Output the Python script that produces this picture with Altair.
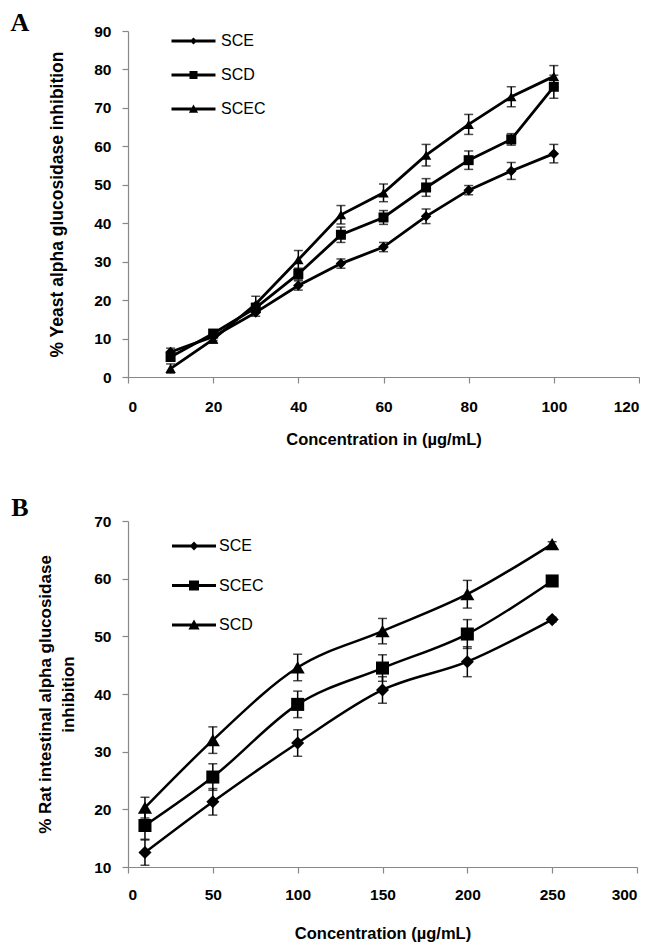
import altair as alt
import pandas as pd

# ---------------- Panel A data ----------------
a_conc = [10, 20, 30, 40, 50, 60, 70, 80, 90, 100]
a_sce = [6.5, 10.5, 16.8, 23.8, 29.5, 33.8, 41.8, 48.6, 53.6, 58.1]
a_sce_err = [1.0, 1.0, 1.0, 1.2, 1.2, 1.2, 1.9, 1.2, 2.2, 2.4]
a_scd = [5.2, 11.3, 18.0, 26.8, 37.0, 41.5, 49.3, 56.4, 61.8, 75.5]
a_scd_err = [1.0, 1.0, 1.2, 1.5, 2.0, 1.8, 2.3, 2.4, 1.5, 3.0]
a_scec = [2.2, 9.8, 19.0, 30.5, 42.2, 47.9, 57.7, 65.7, 72.9, 78.2]
a_scec_err = [1.2, 1.0, 2.0, 2.4, 2.4, 2.3, 2.8, 2.6, 2.6, 2.8]
a_order = ["SCE", "SCD", "SCEC"]

# ---------------- Panel B data ----------------
b_conc = [10, 50, 100, 150, 200, 250]
b_sce = [12.5, 21.3, 31.5, 40.7, 45.6, 52.9]
b_sce_err = [2.2, 2.3, 2.3, 2.3, 2.6, 0.4]
b_scec = [17.2, 25.6, 38.2, 44.5, 50.4, 59.6]
b_scec_err = [2.4, 2.3, 2.3, 2.3, 2.5, 0.4]
b_scd = [20.3, 32.0, 44.6, 50.9, 57.3, 66.0]
b_scd_err = [1.8, 2.3, 2.3, 2.2, 2.4, 0.4]
b_order = ["SCE", "SCEC", "SCD"]

a_xticks = [0, 20, 40, 60, 80, 100, 120]
a_yticks = [0, 10, 20, 30, 40, 50, 60, 70, 80, 90]
b_xticks = [0, 50, 100, 150, 200, 250, 300]
b_yticks = [10, 20, 30, 40, 50, 60, 70]


def long_df(conc, series):
    rows = []
    for name, vals, errs in series:
        for c, v, e in zip(conc, vals, errs):
            rows.append({"conc": c, "val": v, "lo": v - e, "hi": v + e, "series": name})
    return pd.DataFrame(rows)


df_a = long_df(a_conc, [("SCE", a_sce, a_sce_err), ("SCD", a_scd, a_scd_err), ("SCEC", a_scec, a_scec_err)])
df_b = long_df(b_conc, [("SCE", b_sce, b_sce_err), ("SCEC", b_scec, b_scec_err), ("SCD", b_scd, b_scd_err)])

FONT = "Liberation Sans"


def leg_paths(d, s, t, lh=0.37):
    # filled bar for the line + filled marker (same winding)
    line = f"M-5.5,-{lh}H5.5V{lh}H-5.5Z"
    return [
        f"{line}M-{d},0L0,-{d}L{d},0L0,{d}Z",
        f"{line}M-{s},-{s}H{s}V{s}H-{s}Z",
        f"{line}M0,-{t}L{t},{round(t * 0.8, 3)}H-{t}Z",
    ]


def panel(df, order, xdom, xticks, ydom, yticks, w, h, xtitle, ytitle,
          letter, letter_pos, psizes, paths, legx, legy, rowpad, labeloff,
          interp, xlabpad, xtitlepad, ylabpad, ytitlepad, lw, ytitle_size, title_lh=18):
    xs = alt.Scale(domain=xdom, nice=False)
    ys = alt.Scale(domain=ydom, nice=False)
    xax = alt.Axis(values=xticks, title=xtitle, labelPadding=xlabpad,
                   titlePadding=xtitlepad, labelOverlap=False)
    yax = alt.Axis(values=yticks, title=ytitle, labelPadding=ylabpad,
                   titlePadding=ytitlepad, labelOverlap=False,
                   titleLineHeight=title_lh, titleFontSize=ytitle_size)

    def X():
        return alt.X("conc:Q", scale=xs, axis=xax)

    def Y(f):
        return alt.Y(f"{f}:Q", scale=ys, axis=yax)

    base = alt.Chart(df)
    lines = base.mark_line(color="black", strokeWidth=lw, interpolate=interp).encode(
        x=X(), y=Y("val"), detail="series:N")
    rules = base.mark_rule(color="black", strokeWidth=1.5).encode(
        x=X(), y=Y("lo"), y2="hi:Q")
    cap_lo = base.mark_tick(color="black", orient="horizontal", size=9, thickness=1.5).encode(
        x=X(), y=Y("lo"))
    cap_hi = base.mark_tick(color="black", orient="horizontal", size=9, thickness=1.5).encode(
        x=X(), y=Y("hi"))
    shapes = ["diamond", "square", "triangle-up"]
    pts = []
    for name, shp, sz in zip(order, shapes, psizes):
        pts.append(base.transform_filter(alt.datum.series == name).mark_point(
            filled=True, color="black", opacity=1, shape=shp, size=sz).encode(x=X(), y=Y("val")))
    legend_layer = base.mark_point(filled=True, color="black", opacity=0).encode(
        x=X(), y=Y("val"),
        shape=alt.Shape("series:N", scale=alt.Scale(domain=order, range=paths),
                        legend=alt.Legend(title=None, orient="none", legendX=legx, legendY=legy,
                                          symbolOpacity=1, symbolFillColor="black",
                                          symbolStrokeWidth=0,
                                          symbolSize=64, labelFont=FONT, labelFontSize=16,
                                          labelColor="black", labelOffset=labeloff,
                                          rowPadding=rowpad, padding=0)))
    letter_chart = alt.Chart(pd.DataFrame({"t": [letter]})).mark_text(
        font="Liberation Serif", fontSize=26, fontWeight="bold", align="center",
        baseline="middle", color="black").encode(
        text="t:N", x=alt.value(letter_pos[0]), y=alt.value(letter_pos[1]))
    return alt.layer(lines, rules, cap_lo, cap_hi, *pts, legend_layer, letter_chart).properties(
        width=w, height=h)


chart_a = panel(df_a, a_order, [0, 120], a_xticks, [0, 90], a_yticks, 511, 346,
                "Concentration in (µg/mL)", "% Yeast  alpha glucosidase inhibition",
                "A", (-108, -8), [110, 100, 110], leg_paths(0.9, 1.0, 1.15),
                57.5, 2, 18, 19.5, "linear", 16, 17, 11, 27, 2.8, 17.5)
chart_b = panel(df_b, b_order, [0, 300], b_xticks, [10, 70], b_yticks, 509, 346,
                "Concentration (µg/mL)", ["% Rat intestinal alpha glucosidase", "inhibition"],
                "B", (-108, -13), [170, 170, 200], leg_paths(1.1, 1.25, 1.4),
                58, 17, 23.5, 17, "monotone", 14, 23, 11, 16, 2.5, 17, title_lh=23)

chart = alt.vconcat(alt.hconcat(chart_a), alt.hconcat(chart_b), spacing=47).resolve_scale(
    shape="independent").resolve_legend(shape="independent").configure_view(
    stroke=None).configure_axis(
    grid=False, domainColor="#888888", tickColor="#888888", domainWidth=1.2, tickWidth=1.2,
    tickSize=6, labelFont=FONT, labelFontSize=15.5, labelFontWeight="bold", labelColor="black",
    titleFont=FONT, titleFontSize=16.5, titleFontWeight="bold", titleColor="black"
).properties(background="white", padding={"left": 2, "top": 2, "right": 0, "bottom": 0})

chart.save("out.html", embed_options={"renderer": "svg", "actions": False})
